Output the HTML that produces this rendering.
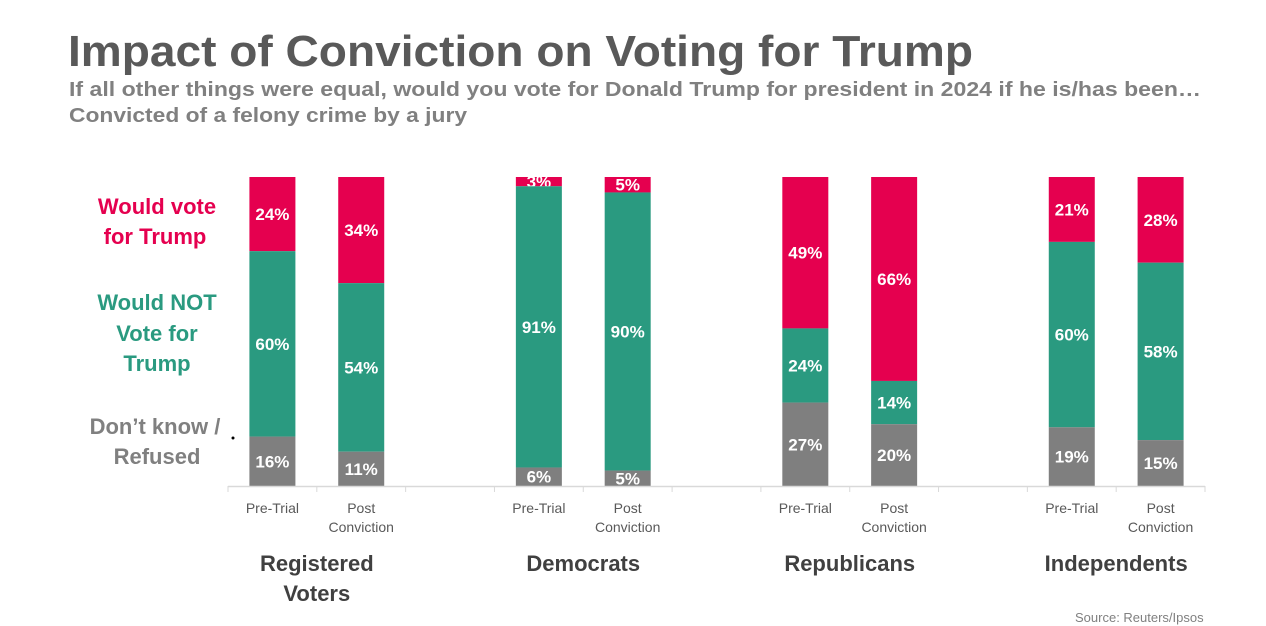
<!DOCTYPE html>
<html><head><meta charset="utf-8"><style>
html,body{margin:0;padding:0;background:#fff;}
svg{display:block;font-family:"Liberation Sans",sans-serif;}
</style></head><body>
<svg id="chart" width="1266" height="626" viewBox="0 0 1266 626">
<text x="68" y="66" font-size="44" font-weight="bold" fill="#595959" textLength="905" lengthAdjust="spacingAndGlyphs">Impact of Conviction on Voting for Trump</text>
<text x="69" y="96" font-size="20" font-weight="bold" fill="#808080" textLength="1132" lengthAdjust="spacingAndGlyphs">If all other things were equal, would you vote for Donald Trump for president in 2024 if he is/has been…</text>
<text x="69" y="122" font-size="20" font-weight="bold" fill="#808080" textLength="398" lengthAdjust="spacingAndGlyphs">Convicted of a felony crime by a jury</text>
<g font-size="22" font-weight="bold" text-anchor="middle">
<text x="157" y="214" fill="#e5004f">Would vote</text>
<text x="155" y="244" fill="#e5004f">for Trump</text>
<text x="157" y="310" fill="#2a9a80">Would NOT</text>
<text x="157" y="341" fill="#2a9a80">Vote for</text>
<text x="157" y="371" fill="#2a9a80">Trump</text>
<text x="155" y="434" fill="#808080">Don’t know /</text>
<text x="157" y="464" fill="#808080">Refused</text>
</g>
<circle cx="233" cy="438" r="1.5" fill="#000"/>
<g id="bars"></g>
<g id="axis"></g>
<text x="1075" y="622" font-size="13" fill="#808080">Source: Reuters/Ipsos</text>
</svg>
<script>
const slots = [0,1,3,4,6,7,9,10];
const categories = ["Pre-Trial","Post Conviction","Pre-Trial","Post Conviction","Pre-Trial","Post Conviction","Pre-Trial","Post Conviction"];
const voteTrump = [24,34,3,5,49,66,21,28];
const notVote = [60,54,91,90,24,14,60,58];
const dontKnow = [16,11,6,5,27,20,19,15];
const groups = ["Registered Voters","Democrats","Republicans","Independents"];
const NS="http://www.w3.org/2000/svg";
const x0=228, x1=1205, nSlots=11, yTop=177, yBottom=486, bw=46;
const slotW=(x1-x0)/nSlots;
const xc = s => x0 + slotW*(s+0.5);
const bars=document.getElementById('bars'), axis=document.getElementById('axis');
function mk(tag, attrs, parent){const e=document.createElementNS(NS,tag);for(const k in attrs)e.setAttribute(k,attrs[k]);parent.appendChild(e);return e;}
const series=[{v:voteTrump,c:"#e5004f",n:"vote-trump"},{v:notVote,c:"#2a9a80",n:"not-vote"},{v:dontKnow,c:"#7f7f7f",n:"dont-know"}];
slots.forEach((s,i)=>{
  const total=voteTrump[i]+notVote[i]+dontKnow[i];
  const sc=v=>v/total*(yBottom-yTop);
  let y=yTop;
  series.forEach(se=>{
    const h=sc(se.v[i]);
    const r=mk('rect',{x:xc(s)-bw/2,y:y,width:bw,height:h,fill:se.c},bars);
    
    
    const t=mk('text',{x:xc(s),y:y+h/2+6,'font-size':17,'font-weight':'bold',fill:'#fff','text-anchor':'middle'},bars);
    t.textContent=se.v[i]+'%';
    
    
    y+=h;
  });
  const parts=categories[i].split(' ');
  parts.forEach((p,j)=>{
    const t=mk('text',{x:xc(s),y:513+j*19,'font-size':14,fill:'#595959','text-anchor':'middle'},axis);
    t.textContent=p;
    
    
  });
});
const al=mk('line',{x1:x0,x2:x1,y1:yBottom+0.5,y2:yBottom+0.5,stroke:'#d9d9d9','stroke-width':1.5},axis);


for(let k=0;k<=nSlots;k++){
  const tk=mk('line',{x1:x0+k*slotW,x2:x0+k*slotW,y1:yBottom,y2:yBottom+6,stroke:'#d9d9d9'},axis);
  
  
}
const gl=[["Registered","Voters"],["Democrats"],["Republicans"],["Independents"]];
gl.forEach((lines,g)=>{
  const cx=(xc(g*3)+xc(g*3+1))/2;
  lines.forEach((p,j)=>{
    const t=mk('text',{x:cx,y:571+j*30,'font-size':22,'font-weight':'bold',fill:'#404040','text-anchor':'middle'},axis);
    t.textContent=p;
    
    
  });
});
</script>
</body></html>
